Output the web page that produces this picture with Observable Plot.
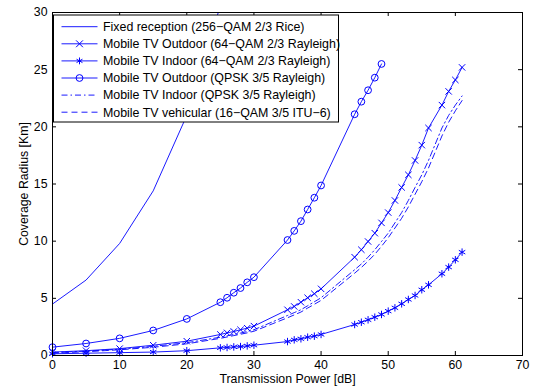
<!DOCTYPE html>
<html><head><meta charset="utf-8">
<script src="https://cdn.jsdelivr.net/npm/d3@7"></script>
<script src="https://cdn.jsdelivr.net/npm/@observablehq/plot@0.6"></script>
<style>body{margin:0;background:#fff} svg{display:block}</style>
</head><body><div id="chart"></div>
<script>
// ---- data ----
const xLabel = "Transmission Power [dB]";
const yLabel = "Coverage Radius [Km]";
const xTicks = [0, 10, 20, 30, 40, 50, 60, 70];
const yTicks = [0, 5, 10, 15, 20, 25, 30];

const legendLabels = [
  "Fixed reception (256\u2212QAM 2/3 Rice)",
  "Mobile TV Outdoor (64\u2212QAM 2/3 Rayleigh)",
  "Mobile TV Indoor (64\u2212QAM 2/3 Rayleigh)",
  "Mobile TV Outdoor (QPSK 3/5 Rayleigh)",
  "Mobile TV Indoor (QPSK 3/5 Rayleigh)",
  "Mobile TV vehicular (16\u2212QAM 3/5 ITU\u22126)"
];

const fixedX = [0, 5, 10, 15, 20, 25];
const fixedY = [4.5, 6.6, 9.8, 14.4, 21.0, 30.6];

const mobileX = [0, 5, 10, 15, 20, 25, 26, 27, 28, 29, 30, 35, 36, 37, 38, 39, 40,
  45, 46, 47, 48, 49, 50, 51, 52, 53, 54, 55, 56, 58, 59, 60, 61];
const outdoor64Y = [0.3, 0.42, 0.6, 0.9, 1.25, 1.84, 1.98, 2.1, 2.25, 2.39, 2.57, 4.0, 4.29, 4.66, 5.05, 5.4, 5.83,
  8.6, 9.25, 9.97, 10.7, 11.6, 12.5, 13.56, 14.7, 15.8, 17.06, 18.4, 19.9, 21.9, 23.1, 24.1, 25.2];
const indoor64Y = [0.15, 0.2, 0.25, 0.3, 0.42, 0.67, 0.7, 0.75, 0.78, 0.84, 0.9, 1.22, 1.37, 1.46, 1.6, 1.69, 1.84,
  2.71, 2.91, 3.12, 3.35, 3.59, 3.88, 4.17, 4.52, 4.9, 5.25, 5.75, 6.18, 7.15, 7.73, 8.37, 9.04];
const indoorQpskY = [0.26, 0.38, 0.55, 0.8, 1.12, 1.6, 1.72, 1.84, 1.96, 2.1, 2.25, 3.5, 3.75, 4.0, 4.35, 4.7, 5.05,
  7.5, 8.0, 8.6, 9.25, 9.97, 10.7, 11.6, 12.5, 13.56, 14.7, 15.8, 17.06, 19.9, 21.0, 21.9, 22.7];
const vehicularY = [0.2, 0.33, 0.5, 0.72, 1.02, 1.5, 1.62, 1.74, 1.86, 1.98, 2.12, 3.3, 3.55, 3.8, 4.15, 4.48, 4.82,
  7.2, 7.7, 8.25, 8.85, 9.55, 10.3, 11.15, 12.0, 13.0, 14.1, 15.2, 16.4, 19.2, 20.4, 21.4, 22.3];

const qpskOutX = [0, 5, 10, 15, 20, 25, 26, 27, 28, 29, 30, 35, 36, 37, 38, 39, 40, 45, 46, 47, 48, 49];
const qpskOutY = [0.73, 1.05, 1.5, 2.19, 3.2, 4.66, 5.05, 5.49, 5.9, 6.4, 6.85, 10.1, 10.9, 11.75, 12.77, 13.8, 14.87,
  21.1, 22.2, 23.2, 24.3, 25.5];

// ---- build ----
const W = 542, H = 387, mL = 52, mR = 20, mT = 12, mB = 32;
const innerW = W - mL - mR, innerH = H - mT - mB;
const blue = "#0000ff";
const font = "'Liberation Sans', Arial, Helvetica, sans-serif";
const rows = (xs, ys) => xs.map((x, i) => ({x, y: ys[i]}));

const fixed = rows(fixedX, fixedY);
const out64 = rows(mobileX, outdoor64Y);
const in64 = rows(mobileX, indoor64Y);
const outQ = rows(qpskOutX, qpskOutY);
const inQ = rows(mobileX, indoorQpskY);
const veh = rows(mobileX, vehicularY);

const lw = 0.9;
const chart = Plot.plot({
  width: W, height: H,
  marginLeft: mL, marginRight: mR, marginTop: mT, marginBottom: mB,
  style: {fontFamily: font, fontSize: "12px", color: "#000", background: "#fff"},
  x: {domain: [0, 70]},
  y: {domain: [0, 30]},
  marks: [
    Plot.axisX(xTicks, {tickSize: 0, tickPadding: 5, label: null, fontSize: 12.3}),
    Plot.axisY(yTicks, {tickSize: 0, tickPadding: 5, label: null, fontSize: 12.3}),
    Plot.tickX(xTicks, {x: d => d, insetTop: innerH - 4, stroke: "#000"}),
    Plot.tickX(xTicks, {x: d => d, insetBottom: innerH - 4, stroke: "#000"}),
    Plot.tickY(yTicks, {y: d => d, insetRight: innerW - 4, stroke: "#000"}),
    Plot.tickY(yTicks, {y: d => d, insetLeft: innerW - 4, stroke: "#000"}),
    Plot.line(fixed, {x: "x", y: "y", stroke: blue, strokeWidth: lw, clip: true}),
    Plot.line(inQ, {x: "x", y: "y", stroke: blue, strokeWidth: lw, strokeDasharray: "6,3,1.5,3"}),
    Plot.line(veh, {x: "x", y: "y", stroke: blue, strokeWidth: lw, strokeDasharray: "6,4"}),
    Plot.line(out64, {x: "x", y: "y", stroke: blue, strokeWidth: lw}),
    Plot.dot(out64, {x: "x", y: "y", stroke: blue, symbol: "times", r: 3, strokeWidth: 1}),
    Plot.line(in64, {x: "x", y: "y", stroke: blue, strokeWidth: lw}),
    Plot.dot(in64, {x: "x", y: "y", stroke: blue, symbol: "asterisk", r: 3.5, strokeWidth: 1}),
    Plot.line(outQ, {x: "x", y: "y", stroke: blue, strokeWidth: lw}),
    Plot.dot(outQ, {x: "x", y: "y", stroke: blue, fill: "none", symbol: "circle", r: 3.4, strokeWidth: 1}),
    Plot.frame({stroke: "#000", strokeWidth: 1}),
    Plot.text([xLabel], {text: d => d, frameAnchor: "bottom", dy: 24, lineAnchor: "middle", textAnchor: "middle", fontSize: 12.3}),
    Plot.text([yLabel], {text: d => d, frameAnchor: "left", dx: -28, rotate: -90, textAnchor: "middle", lineAnchor: "middle", fontSize: 12.3})
  ]
});
document.getElementById("chart").appendChild(chart);

// ---- legend (inside the axes, top-left) ----
const styles = [
  {dash: null, sym: null},
  {dash: null, sym: d3.symbolTimes},
  {dash: null, sym: d3.symbolAsterisk},
  {dash: null, sym: d3.symbolCircle},
  {dash: "6,3,1.5,3", sym: null},
  {dash: "6,4", sym: null}
];
const bx = mL + 1.5, by = mT + 3, bw = 285, bh = 107;
const lg = d3.select(chart).append("g").attr("font-family", font).attr("font-size", 12.4)
  .attr("text-anchor", "start");
lg.append("rect").attr("x", bx).attr("y", by).attr("width", bw).attr("height", bh)
  .attr("fill", "#fff").attr("stroke", "#000").attr("stroke-width", 1);
legendLabels.forEach((label, i) => {
  const cy = by + 11.7 + i * 17.1;
  const s = styles[i];
  lg.append("line").attr("x1", bx + 8).attr("x2", bx + 44).attr("y1", cy).attr("y2", cy)
    .attr("stroke", blue).attr("stroke-width", lw).attr("stroke-dasharray", s.dash);
  if (s.sym) {
    const size = s.sym === d3.symbolCircle ? Math.PI * 3.4 * 3.4 : Math.PI * 3.2 * 3.2;
    lg.append("path").attr("d", d3.symbol(s.sym, size)())
      .attr("transform", `translate(${bx + 26},${cy})`)
      .attr("fill", "none").attr("stroke", blue).attr("stroke-width", 1);
  }
  lg.append("text").attr("x", bx + 49.5).attr("y", cy).attr("dy", "0.35em")
    .attr("text-anchor", "start").attr("fill", "#000").text(label);
});
</script>
</body></html>
